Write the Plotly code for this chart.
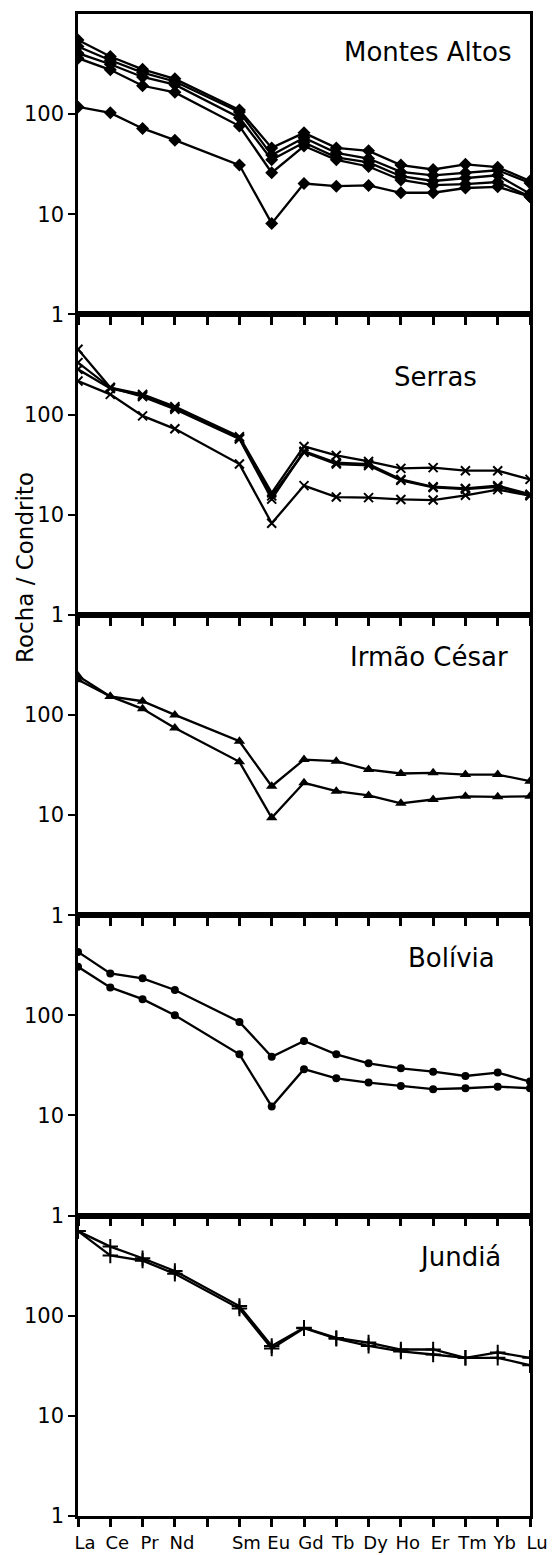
import plotly.graph_objects as go
from plotly.subplots import make_subplots

# ---- data ----
elements = ["La", "Ce", "Pr", "Nd", "Sm", "Eu", "Gd", "Tb", "Dy", "Ho", "Er", "Tm", "Yb", "Lu"]
atomic_number = [57, 58, 59, 60, 62, 63, 64, 65, 66, 67, 68, 69, 70, 71]
tick_positions = [57, 58, 59, 60, 61, 62, 63, 64, 65, 66, 67, 68, 69, 70, 71]
tick_labels = ["La", "Ce", "Pr", "Nd", "", "Sm", "Eu", "Gd", "Tb", "Dy", "Ho", "Er", "Tm", "Yb", "Lu"]
y_ticks = [1, 10, 100]

montes_altos = [
    [551, 376, 280, 225, 110, 46, 65, 46, 43, 31, 28, 31.5, 29.5, 21.5],
    [473, 345, 260, 212, 105, 39, 58, 41, 36, 26.5, 24.5, 26, 27.5, 20.5],
    [406, 315, 235, 197, 92, 35, 52, 37, 33, 24, 21.5, 23, 24.5, 16],
    [362, 277, 192, 165, 76, 26, 48, 35, 30, 22, 19.5, 20, 21, 15],
    [118, 103, 72, 55, 31, 8.1, 20.3, 19.1, 19.4, 16.4, 16.4, 18.3, 18.8, 15.0],
]
serras = [
    [330, 186, 159, 120, 60, 16.5, 48, 39, 34, 29, 29.5, 27.5, 27.5, 22.5],
    [448, 186, 151, 113, 57, 14.3, 43, 33, 32, 22.5, 19, 18.3, 19.5, 16],
    [283, 182, 155, 116, 58, 15.4, 42, 32, 31, 22, 18.7, 18, 19, 15.5],
    [216, 159, 97, 72, 32, 8.2, 19.5, 15, 14.8, 14.2, 14, 15.6, 17.8, 15.5],
]
irmao_cesar = [
    [245, 153, 137, 100, 54.6, 19.4, 35.8, 34.5, 28.5, 26, 26.4, 25.4, 25.4, 21.8],
    [225, 153, 115, 74, 34, 9.4, 21, 17.3, 15.7, 13.1, 14.3, 15.4, 15.2, 15.4],
]
bolivia = [
    [430, 262, 234, 179, 86, 38.6, 55.5, 40.8, 33.2, 29.6, 27.4, 24.8, 26.8, 21.8],
    [305, 190, 145, 100, 40.8, 12.3, 29, 23.5, 21.3, 19.7, 18.3, 18.7, 19.4, 18.7],
]
jundia = [
    [700, 490, 375, 280, 125, 50, 76, 60, 54, 46, 46, 38, 43, 38],
    [700, 400, 355, 262, 118, 47, 75, 59, 50, 44, 41, 38, 38, 32],
]

panels = [
    ("Montes Altos", montes_altos, "diamond", 10),
    ("Serras", serras, "x-thin-open", 9),
    ("Irmão César", irmao_cesar, "triangle-up", 10),
    ("Bolívia", bolivia, "circle", 8),
    ("Jundiá", jundia, "cross-thin-open", 11),
]

# ---- layout geometry ----
W, H = 558, 1555
L, R, T, B = 78, 530, 14, 1516
FONT = "DejaVu Sans"

fig = make_subplots(rows=5, cols=1, vertical_spacing=0)

for i, (name, series, symbol, msize) in enumerate(panels, start=1):
    for s in series:
        thin = symbol.endswith("open")
        fig.add_trace(
            go.Scatter(
                x=atomic_number, y=s, mode="lines+markers",
                line=dict(color="black", width=2.3),
                marker=dict(symbol=symbol, size=msize, color="black",
                            line=dict(color="black", width=2 if thin else 0)),
                showlegend=False, hoverinfo="skip",
            ),
            row=i, col=1,
        )
    fig.update_xaxes(
        row=i, col=1, range=[57, 71], tickmode="array",
        tickvals=tick_positions, ticktext=tick_labels if i == 5 else [""] * 15,
        showticklabels=(i == 5), ticks="outside", ticklen=8, tickwidth=2.5,
        tickcolor="black", showline=True, linewidth=2.5, linecolor="black",
        mirror=True, showgrid=False, zeroline=False, automargin=False,
        ticklabelstandoff=1, ticklabelshift=7,
        tickfont=dict(family=FONT, size=18, color="black"),
    )
    fig.update_yaxes(
        row=i, col=1, type="log", range=[0, 3], tickmode="array",
        tickvals=y_ticks, ticktext=[str(v) for v in y_ticks],
        ticks="outside", ticklen=7, tickwidth=2, tickcolor="black",
        showline=True, linewidth=2.5, linecolor="black", mirror=True,
        showgrid=False, zeroline=False, automargin=False,
        tickfont=dict(family=FONT, size=21, color="black"),
    )

def px_x(px):
    return (px - L) / (R - L)

def px_y(py):
    return (B - py) / (B - T)

title_pos = [(513, 52), (479, 377), (510, 657), (497, 958), (503, 1257)]
for (name, _, _, _), (xr, yc) in zip(panels, title_pos):
    fig.add_annotation(
        text=name, xref="paper", yref="paper", x=px_x(xr), y=px_y(yc),
        xanchor="right", yanchor="middle", showarrow=False,
        font=dict(family=FONT, size=26, color="black"),
    )

fig.add_annotation(
    text="Rocha / Condrito", xref="paper", yref="paper",
    x=px_x(25), y=px_y(568), xanchor="center", yanchor="middle",
    textangle=-90, showarrow=False,
    font=dict(family=FONT, size=23, color="black"),
)

fig.update_layout(
    width=W, height=H,
    margin=dict(l=L, r=W - R, t=T, b=H - B, pad=0, autoexpand=False),
    paper_bgcolor="white", plot_bgcolor="white",
    font=dict(family=FONT, color="black"),
)

fig.write_html("out.html")
